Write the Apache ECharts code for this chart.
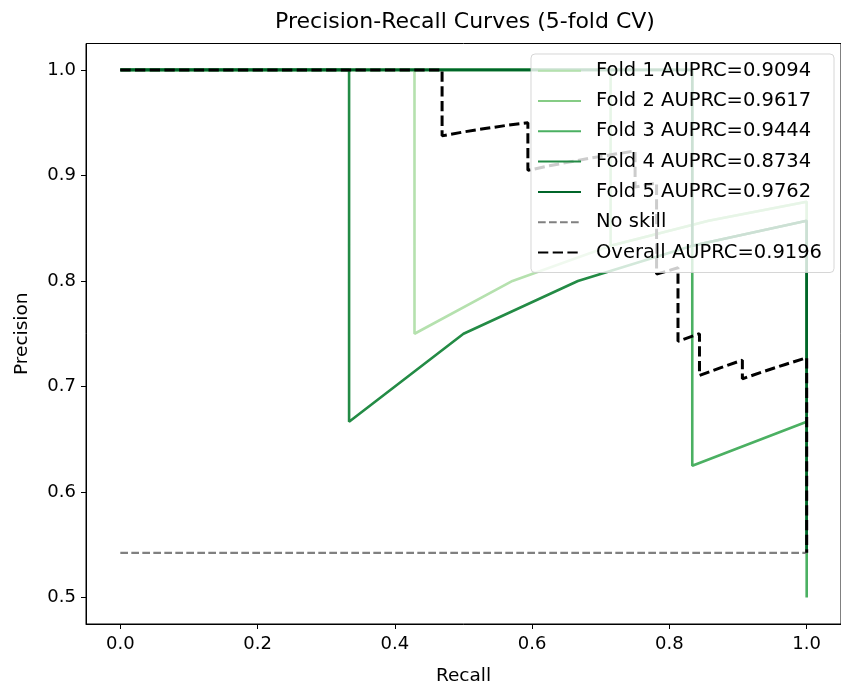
<!DOCTYPE html>
<html>
<head>
<meta charset="utf-8">
<script src="https://cdn.jsdelivr.net/npm/echarts@6/dist/echarts.min.js"></script>
<style>
html,body{margin:0;padding:0;background:#fff;}
#chart{width:841px;height:691px;}
</style>
</head>
<body>
<div id="chart"></div>
<script>
// ---- data ----
const titleText = 'Precision-Recall Curves (5-fold CV)';
const xTicks = [0, 0.2, 0.4, 0.6, 0.8, 1.0];
const yTicks = [0.5, 0.6, 0.7, 0.8, 0.9, 1.0];

const fold1Recall    = [0, 0.1429, 0.2857, 0.4286, 0.4286, 0.5714, 0.7143, 0.8571, 1.0, 1.0];
const fold1Precision = [1, 1, 1, 1, 0.75, 0.8, 0.8333, 0.8571, 0.875, 0.5833];

const fold2Recall    = [0, 0.1429, 0.2857, 0.4286, 0.5714, 0.7143, 0.7143, 0.8571, 1.0, 1.0];
const fold2Precision = [1, 1, 1, 1, 1, 1, 0.8333, 0.8571, 0.875, 0.5833];

const fold3Recall    = [0, 0.1667, 0.3333, 0.5, 0.6667, 0.8333, 0.8333, 1.0, 1.0];
const fold3Precision = [1, 1, 1, 1, 1, 1, 0.625, 0.6667, 0.5];

const fold4Recall    = [0, 0.1667, 0.3333, 0.3333, 0.5, 0.6667, 0.8333, 1.0, 1.0];
const fold4Precision = [1, 1, 1, 0.6667, 0.75, 0.8, 0.8333, 0.8571, 0.5455];

const fold5Recall    = [0, 0.1667, 0.3333, 0.5, 0.6667, 0.8333, 0.8333, 1.0, 1.0];
const fold5Precision = [1, 1, 1, 1, 1, 1, 0.8333, 0.8571, 0.5455];

const noSkillRecall    = [0, 1];
const noSkillPrecision = [0.5424, 0.5424];

const overallRecall = [0, 0.4688, 0.4688, 0.5, 0.5313, 0.5625, 0.5938, 0.5938, 0.625, 0.6563, 0.6875, 0.7188, 0.75, 0.75,
  0.7813, 0.7813, 0.8125, 0.8125, 0.8438, 0.8438, 0.875, 0.9063, 0.9063, 0.9375, 0.9688, 1.0, 1.0];
const overallPrecision = [1, 1, 0.9375, 0.9412, 0.9444, 0.9474, 0.95, 0.9048, 0.9091, 0.9130, 0.9167, 0.92, 0.9231, 0.8889,
  0.8929, 0.8065, 0.8125, 0.7429, 0.75, 0.7105, 0.7179, 0.725, 0.7073, 0.7143, 0.7209, 0.7273, 0.5424];

const foldLabels = ['Fold 1 AUPRC=0.9094', 'Fold 2 AUPRC=0.9617', 'Fold 3 AUPRC=0.9444', 'Fold 4 AUPRC=0.8734', 'Fold 5 AUPRC=0.9762'];
const noSkillLabel = 'No skill';
const overallLabel = 'Overall AUPRC=0.9196';

// ---- styles ----
const foldColors = ['#b5e1ae', '#86cc85', '#4bb062', '#238b45', '#006529'];
const FONT = 'DejaVu Sans';

function pairs(xs, ys) { return xs.map((x, i) => [x, ys[i]]); }

const foldR = [fold1Recall, fold2Recall, fold3Recall, fold4Recall, fold5Recall];
const foldP = [fold1Precision, fold2Precision, fold3Precision, fold4Precision, fold5Precision];

const series = foldLabels.map((name, i) => ({
  name: name,
  type: 'line',
  data: pairs(foldR[i], foldP[i]),
  symbol: 'none',
  showSymbol: false,
  lineStyle: { color: foldColors[i], width: 2.6 },
  itemStyle: { color: foldColors[i] },
  z: 2 + i
}));
series.push({
  name: noSkillLabel, type: 'line', data: pairs(noSkillRecall, noSkillPrecision),
  symbol: 'none', showSymbol: false,
  lineStyle: { color: '#808080', width: 2.1, type: [7.7, 3.3] },
  itemStyle: { color: '#808080' }, z: 8
});
series.push({
  name: overallLabel, type: 'line', data: pairs(overallRecall, overallPrecision),
  symbol: 'none', showSymbol: false,
  lineStyle: { color: '#000000', width: 3, type: [10.3, 4.4] },
  itemStyle: { color: '#000000' }, z: 9
});

const axisCommon = {
  type: 'value',
  axisLine: { show: true, onZero: false, lineStyle: { color: '#000', width: 1 } },
  splitLine: { show: false },
  nameTextStyle: { fontFamily: FONT, fontSize: 18.5, color: '#000' },
};

const option = {
  animation: false,
  backgroundColor: '#ffffff',
  textStyle: { fontFamily: FONT },
  title: {
    text: titleText, left: 465, top: 11, padding: 0, textAlign: 'center',
    textStyle: { fontFamily: FONT, fontSize: 22, fontWeight: 'normal', color: '#000' }
  },
  grid: { left: 86, top: 43.5, width: 759, height: 586, show: true, borderColor: '#000', borderWidth: 1, backgroundColor: 'transparent' },
  xAxis: Object.assign({}, axisCommon, {
    min: -0.05, max: 1.05,
    name: 'Recall', nameLocation: 'middle', nameGap: 43,
    axisTick: { show: true, length: 5, customValues: xTicks, lineStyle: { color: '#000', width: 1 } },
    axisLabel: { customValues: xTicks, formatter: v => v.toFixed(1), fontFamily: FONT, fontSize: 18, color: '#000', margin: 11 }
  }),
  yAxis: Object.assign({}, axisCommon, {
    min: 0.475, max: 1.025,
    name: 'Precision', nameLocation: 'middle', nameGap: 54,
    axisTick: { show: true, length: 5, customValues: yTicks, lineStyle: { color: '#000', width: 1 } },
    axisLabel: { customValues: yTicks, formatter: v => v.toFixed(1), fontFamily: FONT, fontSize: 18, color: '#000', margin: 10 }
  }),
  legend: {
    orient: 'vertical', left: 531, top: 54, z: 50,
    padding: [6.7, 12, 10, 6],
    backgroundColor: 'rgba(255,255,255,0.8)', borderColor: 'rgba(204,204,204,0.8)', borderWidth: 1, borderRadius: 4,
    itemWidth: 43, itemHeight: 20, itemGap: 10.3,
    itemStyle: { opacity: 0 },
    textStyle: { fontFamily: FONT, fontSize: 19.5, lineHeight: 20, color: '#000', padding: [0, 0, 0, 10] },
    data: foldLabels.concat([noSkillLabel, overallLabel])
  },
  series: series
};

const chart = echarts.init(document.getElementById('chart'), null, { renderer: 'canvas' });
chart.setOption(option);
</script>
</body>
</html>
